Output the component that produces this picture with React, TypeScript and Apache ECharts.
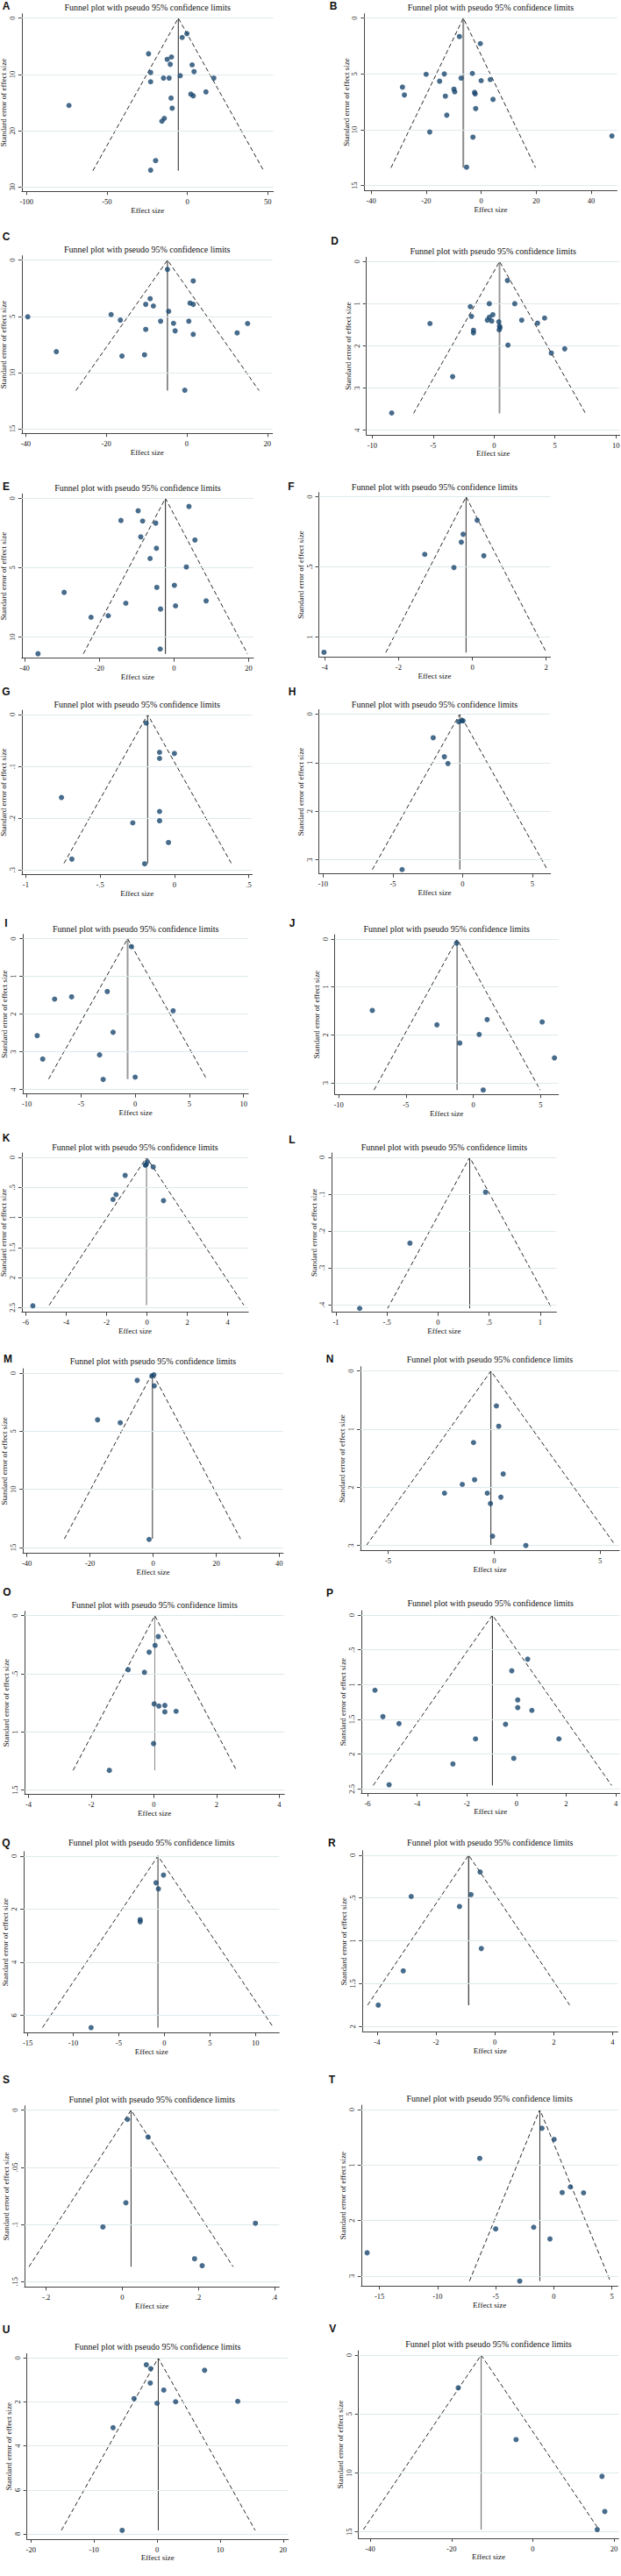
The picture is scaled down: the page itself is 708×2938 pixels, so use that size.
import React, { useEffect, useRef } from "react";
import * as echarts from "echarts";

// ---------------- DATA ----------------
const panelLetters = ["A","B","C","D","E","F","G","H","I","J","K","L","M","N","O","P","Q","R","S","T","U","V"];

const A_effect = [-0.25, -3.2, -24.1, -9.85, -12.5, -10.6, 3.0, -22.8, 4.2, -4.4, -14.8, -11.3, 16.5, -22.8, 11.6, 2.2, 3.7, -10.1, -73.6, -9.4, -14.3, -15.8, -19.7, -22.8];
const A_se = [2.75, 3.43, 6.33, 6.9, 7.32, 8.2, 8.3, 9.65, 9.5, 10.22, 10.64, 10.64, 10.64, 11.3, 13.1, 13.5, 13.8, 14.2, 15.5, 16.0, 17.8, 18.3, 25.3, 27.0];

const B_effect = [-7.9, -0.3, -20.0, -13.4, -3.2, -7.3, -15.1, 0.0, 3.3, -28.6, -27.9, -9.9, -9.6, -13.0, -2.4, -2.2, 4.3, -2.0, -12.5, -18.7, -3.0, 47.5, -5.3];
const B_se = [1.65, 2.28, 5.03, 5.0, 4.95, 5.37, 5.65, 5.6, 5.5, 6.18, 6.88, 6.36, 6.6, 6.99, 6.65, 6.78, 7.28, 8.1, 8.69, 10.2, 10.66, 10.55, 13.35];

const C_effect = [-4.8, 1.6, -9.1, -10.2, -8.3, 0.8, 1.6, -4.5, -39.5, -18.8, -16.5, -6.5, 0.5, -3.3, 15.1, -10.2, -2.9, 1.6, 12.5, -32.4, -16.1, -10.5, -0.5];
const C_se = [0.83, 1.85, 3.43, 3.93, 4.08, 3.82, 3.93, 4.55, 5.04, 4.84, 5.33, 5.43, 5.43, 5.62, 5.64, 6.16, 6.29, 6.6, 6.47, 8.14, 8.53, 8.42, 11.57];

const D_effect = [1.1, -1.95, -0.39, 1.7, -1.85, -0.1, -0.39, -0.55, -0.19, 0.39, 2.27, 4.15, 3.57, -5.26, 0.45, 0.49, 0.42, -1.69, -1.69, 1.14, 5.8, 4.7, -3.4, -8.4];
const D_se = [0.45, 1.07, 1.0, 1.0, 1.3, 1.26, 1.32, 1.39, 1.41, 1.43, 1.39, 1.34, 1.46, 1.47, 1.53, 1.57, 1.62, 1.63, 1.69, 1.98, 2.07, 2.17, 2.73, 3.59];

const E_effect = [4.0, -9.6, -14.2, -8.4, -4.9, -8.9, 5.6, -4.7, -6.4, 3.3, -29.4, 0.1, -4.6, 8.6, -12.9, 0.4, -3.6, -17.6, -22.2, -3.7, -36.4];
const E_se = [0.59, 0.9, 1.6, 1.64, 1.79, 2.78, 3.01, 3.6, 4.34, 4.95, 6.78, 6.27, 6.42, 7.39, 7.56, 7.75, 7.98, 8.46, 8.57, 10.86, 11.2];

const F_effect = [0.13, -0.25, -0.3, -1.29, 0.31, -0.5, -4.02];
const F_se = [0.167, 0.267, 0.323, 0.41, 0.42, 0.504, 1.108];

const G_effect = [-0.19, -0.1, 0.0, -0.1, -0.76, -0.1, -0.1, -0.28, -0.04, -0.69, -0.2];
const G_se = [0.0164, 0.0728, 0.075, 0.0846, 0.16, 0.187, 0.205, 0.209, 0.247, 0.279, 0.288];

const H_effect = [-0.28, -0.06, 0.03, -2.11, -1.31, -1.05, -4.34];
const H_se = [0.16, 0.14, 0.14, 0.49, 0.88, 1.02, 3.2];

const I_effect = [-0.35, -2.58, -5.87, -7.44, 3.5, -2.04, -9.05, -3.29, -8.54, 0.0, -2.96];
const I_se = [0.21, 1.4, 1.54, 1.6, 1.91, 2.48, 2.57, 3.08, 3.19, 3.67, 3.73];

const J_effect = [-1.24, -7.5, -2.7, 1.03, 5.12, 0.44, -1.0, 6.03, 0.74];
const J_se = [0.085, 1.49, 1.79, 1.68, 1.73, 1.99, 2.17, 2.48, 3.15];

const K_effect = [0.02, -0.08, -0.04, 0.31, -1.08, -1.53, -1.68, 0.82, -5.65];
const K_se = [0.073, 0.13, 0.12, 0.16, 0.3, 0.62, 0.7, 0.72, 2.47];

const L_effect = [0.465, -0.275, -0.767];
const L_se = [0.0945, 0.233, 0.41];

const M_effect = [-5.03, -0.37, 0.26, 0.38, -17.6, -10.4, -1.26];
const M_se = [0.63, 0.25, 0.15, 1.1, 4.02, 4.27, 14.3];

const N_effect = [0.11, 0.22, -0.97, 0.43, -0.92, -1.5, -2.34, -0.32, 0.32, -0.17, -0.07, 1.5];
const N_se = [0.6, 0.95, 1.23, 1.77, 1.87, 1.95, 2.1, 2.1, 2.17, 2.28, 2.84, 3.0];

const O_effect = [0.14, 0.04, -0.15, -0.82, -0.3, 0.01, 0.16, 0.35, 0.35, 0.71, -0.01, -1.42];
const O_se = [0.18, 0.256, 0.314, 0.465, 0.487, 0.759, 0.777, 0.772, 0.827, 0.822, 1.1, 1.33];

const P_effect = [0.45, -0.19, -5.7, 0.05, 0.05, 0.62, -5.38, -4.73, -0.44, -1.65, 1.71, -0.11, -2.56, -5.13];
const P_se = [0.634, 0.8, 1.08, 1.22, 1.33, 1.37, 1.46, 1.56, 1.57, 1.78, 1.78, 2.06, 2.14, 2.44];

const Q_effect = [-0.09, -0.91, -0.65, -2.65, -2.65, -8.04];
const Q_se = [0.72, 1.01, 1.24, 2.4, 2.48, 6.47];

const R_effect = [-0.5, -2.84, -0.81, -1.2, -0.46, -3.11, -3.96];
const R_se = [0.197, 0.483, 0.46, 0.6, 1.09, 1.35, 1.75];

const S_effect = [0.0135, 0.0677, 0.0094, -0.051, 0.35, 0.19, 0.21];
const S_se = [0.0081, 0.0235, 0.081, 0.1022, 0.0989, 0.13, 0.136];

const T_effect = [-1.02, 0.03, -6.37, 1.43, 0.72, 2.56, -5.0, -1.73, -0.33, -16.06, -2.93];
const T_se = [0.337, 0.537, 0.879, 1.394, 1.495, 1.5, 2.15, 2.12, 2.33, 2.58, 3.09];

const U_effect = [-1.7, -1.0, 7.54, -1.07, 1.07, -3.64, 0.0, 2.95, 12.8, -6.97, -5.53];
const U_se = [0.31, 0.49, 0.56, 1.14, 1.46, 1.85, 2.06, 1.99, 1.97, 3.17, 7.84];

const V_effect = [-18.34, -4.1, 17.07, 17.76, 15.9];
const V_se = [2.78, 7.17, 10.29, 13.27, 14.8];

const effectSizes = [A_effect, B_effect, C_effect, D_effect, E_effect, F_effect, G_effect, H_effect, I_effect, J_effect, K_effect, L_effect, M_effect, N_effect, O_effect, P_effect, Q_effect, R_effect, S_effect, T_effect, U_effect, V_effect];
const standardErrors = [A_se, B_se, C_se, D_se, E_se, F_se, G_se, H_se, I_se, J_se, K_se, L_se, M_se, N_se, O_se, P_se, Q_se, R_se, S_se, T_se, U_se, V_se];

// pooled estimate (apex of funnel) and largest standard error (funnel depth)
const pooledEffect = [-5.6, -6.5, -4.8, 0.45, -2.3, -0.17, -0.18, -0.2, -0.7, -1.2, -0.02, 0.31, -0.2, -0.15, 0.03, -0.97, -0.7, -0.89, 0.023, -1.2, 0.2, -12.7];
const maxStdErr = [27.1, 13.4, 11.6, 3.6, 11.2, 1.11, 0.287, 3.2, 3.72, 3.15, 2.46, 0.41, 14.25, 3.0, 1.33, 2.45, 6.47, 1.75, 0.137, 3.09, 7.84, 14.8];

const xTickValues = [
  [-100, -50, 0, 50], [-40, -20, 0, 20, 40], [-40, -20, 0, 20], [-10, -5, 0, 5, 10],
  [-40, -20, 0, 20], [-4, -2, 0, 2], [-1, -0.5, 0, 0.5], [-10, -5, 0, 5],
  [-10, -5, 0, 5, 10], [-10, -5, 0, 5], [-6, -4, -2, 0, 2, 4], [-1, -0.5, 0, 0.5, 1],
  [-40, -20, 0, 20, 40], [-5, 0, 5], [-4, -2, 0, 2, 4], [-6, -4, -2, 0, 2, 4],
  [-15, -10, -5, 0, 5, 10], [-4, -2, 0, 2, 4], [-0.2, 0, 0.2, 0.4], [-15, -10, -5, 0, 5],
  [-20, -10, 0, 10, 20], [-40, -20, 0, 20],
];
const yTickValues = [
  [0, 10, 20, 30], [0, 5, 10, 15], [0, 5, 10, 15], [0, 1, 2, 3, 4],
  [0, 5, 10], [0, 0.5, 1], [0, 0.1, 0.2, 0.3], [0, 1, 2, 3],
  [0, 1, 2, 3, 4], [0, 1, 2, 3], [0, 0.5, 1, 1.5, 2, 2.5], [0, 0.1, 0.2, 0.3, 0.4],
  [0, 5, 10, 15], [0, 1, 2, 3], [0, 0.5, 1, 1.5], [0, 0.5, 1, 1.5, 2, 2.5],
  [0, 2, 4, 6], [0, 0.5, 1, 1.5, 2], [0, 0.05, 0.1, 0.15], [0, 1, 2, 3],
  [0, 2, 4, 6, 8], [0, 5, 10, 15],
];

const TITLE = "Funnel plot with pseudo 95% confidence limits";
const X_NAME = "Effect size";
const Y_NAME = "Standard error of effect size";
const Z95 = 1.96;

// ---------------- LAYOUT (pixels / axis extents) ----------------
// [left, right, top, bottom, xMin, xMax, yMin, yMax, titleY, letterX, letterY]
const LAYOUT = [
  [24.8, 311.6, 15.7, 218.3, -102.97, 53.5, -0.78, 30.77, 8, 7, 6],
  [415.4, 703.5, 15.7, 217.3, -42.45, 49.37, -0.393, 15.44, 8, 380, 6],
  [24.8, 310.7, 291.7, 494.3, -40.99, 21.29, -0.39, 15.41, 284.3, 7, 270],
  [417.7, 706.6, 293.3, 496, -10.48, 10.32, -0.104, 4.11, 286, 381.5, 275],
  [24.8, 289, 563.3, 750.7, -40.75, 21.27, -0.316, 11.52, 556.7, 7, 555],
  [363.5, 627.6, 561.7, 749.3, -4.16, 2.116, -0.031, 1.1417, 555, 332, 555],
  [24.8, 287.6, 810, 997.3, -1.027, 0.5236, -0.00846, 0.3085, 803.3, 7, 789.3],
  [363.5, 627.6, 809.3, 996.7, -10.31, 6.3, -0.09, 3.289, 803, 333, 789.3],
  [26.2, 283.1, 1065.7, 1247.7, -10.36, 10.44, -0.116, 4.116, 1059, 5, 1053.3],
  [381.5, 636.7, 1066, 1248.3, -10.3, 6.33, -0.0915, 3.243, 1059.7, 333, 1053.3],
  [24.8, 283.1, 1315, 1496.7, -6.2, 5.02, -0.073, 2.578, 1308.3, 7, 1298.3],
  [378.4, 634.4, 1315, 1496.7, -1.039, 1.159, -0.0119, 0.4206, 1308.3, 333, 1300],
  [26.2, 322.8, 1561, 1771.7, -41.25, 41.25, -0.377, 15.5, 1552.3, 9, 1550],
  [410.9, 706, 1558.7, 1768.3, -6.31, 5.91, -0.0754, 3.085, 1550.7, 376, 1550],
  [28, 324.2, 1837.7, 2046.7, -4.126, 4.165, -0.0377, 1.5377, 1830, 8, 1816],
  [411.8, 706.6, 1837.1, 2045, -6.254, 4.16, -0.063, 2.559, 1828, 376, 1816.7],
  [27.1, 318.3, 2111.8, 2318.3, -15.43, 12.61, -0.165, 6.66, 2101.7, 7, 2101.7],
  [413.2, 704.4, 2110.8, 2317.3, -4.497, 4.176, -0.0512, 2.061, 2101.7, 378.4, 2101.7],
  [28, 318.3, 2401.7, 2608.3, -0.257, 0.4125, -0.00383, 0.1546, 2394, 7, 2371.7],
  [411.8, 704.4, 2401, 2607.3, -16.57, 5.51, -0.079, 3.179, 2393.3, 378.4, 2371.7],
  [30.7, 328.7, 2684.3, 2896, -20.63, 20.82, -0.2, 8.24, 2676, 7, 2656.7],
  [408.6, 705.3, 2681, 2895, -42.94, 21.17, -0.372, 15.54, 2673.3, 379.3, 2656],
];

// vertical (pooled estimate) line style per panel: [color, width]
const VLINE_STYLE: [string, number][] = [
  ["#222", 1], ["#8c8c8c", 2], ["#222", 1], ["#9a9a9a", 2], ["#444", 1.2], ["#555", 1.2],
  ["#333", 1], ["#333", 1], ["#9a9a9a", 2], ["#777", 1.5], ["#9a9a9a", 1.5], ["#333", 1],
  ["#555", 1.2], ["#333", 1], ["#888", 1], ["#222", 1], ["#333", 1], ["#333", 1.2],
  ["#333", 1], ["#333", 1], ["#333", 1], ["#777", 1.2],
];

const SERIF = "'Liberation Serif', 'Times New Roman', 'DejaVu Serif', serif";
const SANS = "'Liberation Sans Narrow', 'Liberation Sans', Arial, sans-serif";
const DOT = "#1a476f";
const GRIDLINE = "#dfe9ec";
const AXIS = "#444";

function fmt(v: number): string {
  const s = String(+Number(v).toFixed(6));
  return s.replace(/^(-?)0\./, "$1.");
}

function buildOption() {
  const grid: any[] = [];
  const xAxis: any[] = [];
  const yAxis: any[] = [];
  const series: any[] = [];
  const elements: any[] = [];

  panelLetters.forEach((letter, i) => {
    const [left, right, top, bottom, xMin, xMax, yMin, yMax, titleY, lx, ly] = LAYOUT[i];
    grid.push({
      left, top, width: right - left, height: bottom - top,
      containLabel: false, outerBoundsMode: "none",
    });
    const xt = xTickValues[i];
    const yt = yTickValues[i];
    xAxis.push({
      type: "value", gridIndex: i, min: xMin, max: xMax,
      axisLine: { show: true, onZero: false, lineStyle: { color: AXIS, width: 1 } },
      axisTick: { show: true, length: 4, customValues: xt, lineStyle: { color: AXIS } },
      axisLabel: { customValues: xt, formatter: fmt, fontSize: 8.5, fontFamily: SERIF, color: "#111", margin: 7 },
      splitLine: { show: false },
      name: X_NAME, nameLocation: "middle", nameGap: 15,
      nameTextStyle: { fontSize: 9, fontFamily: SERIF, color: "#111" },
    });
    yAxis.push({
      type: "value", gridIndex: i, inverse: true, min: yMin, max: yMax,
      axisLine: { show: true, onZero: false, lineStyle: { color: AXIS, width: 1 } },
      axisTick: { show: true, length: 4, customValues: yt, lineStyle: { color: AXIS } },
      axisLabel: { customValues: yt, formatter: fmt, fontSize: 8.5, fontFamily: SERIF, color: "#111", margin: 6.5, rotate: 90 },
      splitLine: { show: false },
      name: Y_NAME, nameLocation: "middle", nameGap: 13.5, nameRotate: 90,
      nameTextStyle: { fontSize: 9, fontFamily: SERIF, color: "#111" },
    });

    const pooled = pooledEffect[i];
    const seMax = maxStdErr[i];
    const half = Z95 * seMax;

    // gridlines holder
    series.push({
      type: "line", xAxisIndex: i, yAxisIndex: i, data: [[pooled, 0]],
      symbol: "none", showSymbol: false, lineStyle: { opacity: 0 }, silent: true, z: 1,
      markLine: {
        silent: true, symbol: ["none", "none"], label: { show: false },
        lineStyle: { color: GRIDLINE, width: 1, type: "solid" },
        emphasis: { disabled: true },
        data: yt.map((v) => ({ yAxis: v })),
      },
    });
    // funnel limits
    series.push({
      type: "line", xAxisIndex: i, yAxisIndex: i, silent: true, z: 3,
      data: [[pooled - half, seMax], [pooled, 0], [pooled + half, seMax]],
      symbol: "none", showSymbol: false,
      lineStyle: { color: "#2a2a2a", width: 1, type: [5, 3] },
    });
    // pooled estimate line
    series.push({
      type: "line", xAxisIndex: i, yAxisIndex: i, silent: true, z: 2,
      data: [[pooled, 0], [pooled, seMax]],
      symbol: "none", showSymbol: false,
      lineStyle: { color: VLINE_STYLE[i][0], width: VLINE_STYLE[i][1], type: "solid" },
    });
    // studies
    const eff = effectSizes[i];
    const se = standardErrors[i];
    series.push({
      type: "scatter", xAxisIndex: i, yAxisIndex: i, z: 5,
      data: eff.map((e, k) => [e, se[k]]),
      symbol: "circle", symbolSize: 6,
      itemStyle: { color: DOT, borderWidth: 0 },
    });

    elements.push({
      type: "text", x: (left + right) / 2, y: titleY, silent: true,
      style: {
        text: TITLE, fontSize: 10, fontFamily: SERIF, fill: "#111",
        align: "center", verticalAlign: "middle", textAlign: "center", textVerticalAlign: "middle",
      },
    });
    elements.push({
      type: "text", x: Math.max(lx, 7), y: Math.max(ly, 7), silent: true,
      style: {
        text: letter, fontSize: 12, fontWeight: "bold", fontFamily: SANS, fill: "#111",
        align: "center", verticalAlign: "middle", textAlign: "center", textVerticalAlign: "middle",
      },
    });
  });

  return {
    animation: false,
    backgroundColor: "#ffffff",
    grid, xAxis, yAxis, series,
    graphic: { elements },
  };
}

export default function App() {
  const ref = useRef<HTMLDivElement>(null);
  useEffect(() => {
    if (!ref.current) return;
    const chart = echarts.init(ref.current, null, { renderer: "svg" });
    chart.setOption(buildOption() as any);
    return () => chart.dispose();
  }, []);
  return (
    <div
      ref={ref}
      style={{ position: "absolute", left: 0, top: 0, width: 708, height: 2938, background: "#fff" }}
    />
  );
}
